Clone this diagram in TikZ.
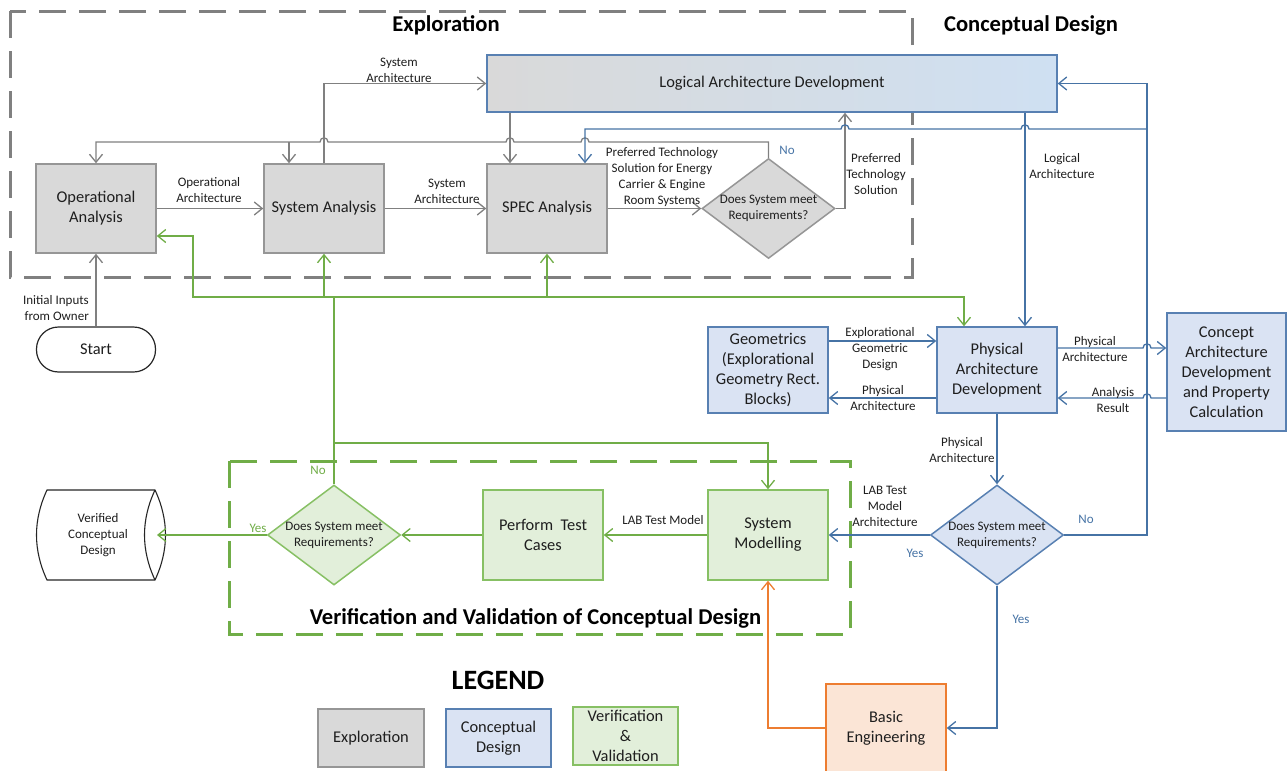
\documentclass[tikz,border=0pt]{standalone}
\usepackage{fontspec}
\setmainfont{Carlito}
\usetikzlibrary{arrows.meta,shapes.geometric}

\definecolor{exFill}{RGB}{217,217,217}
\definecolor{exLine}{RGB}{150,150,150}
\definecolor{exConn}{RGB}{128,128,128}
\definecolor{cdFill}{RGB}{218,227,243}
\definecolor{cdLine}{RGB}{88,128,178}
\definecolor{cdConn}{RGB}{70,115,165}
\definecolor{cdGrad}{RGB}{207,224,242}
\definecolor{vvFill}{RGB}{226,239,218}
\definecolor{vvLine}{RGB}{135,192,100}
\definecolor{vvConn}{RGB}{112,173,71}
\definecolor{beFill}{RGB}{251,229,214}
\definecolor{beLine}{RGB}{237,125,49}
\definecolor{txtDark}{RGB}{30,30,30}

\newcommand{\boxtxt}{\fontsize{16.4}{20}\selectfont}
\newcommand{\lbltxt}{\fontsize{13}{16}\selectfont}
\newcommand{\headtxt}{\fontsize{22.6}{27}\selectfont\bfseries}

\tikzset{
  blk/.style={draw, line width=1.5pt, minimum width=120pt, minimum height=89pt,
    inner sep=2pt, align=center, font=\boxtxt, text=txtDark},
  exblk/.style={blk, fill=exFill, draw=exLine},
  cdblk/.style={blk, fill=cdFill, draw=cdLine},
  vvblk/.style={blk, fill=vvFill, draw=vvLine},
  beblk/.style={blk, fill=beFill, draw=beLine},
  decision/.style={diamond, line width=1.5pt, minimum width=133pt,
    minimum height=100pt, inner sep=0pt},
  dtext/.style={font=\lbltxt, align=center, text=txtDark, inner sep=0pt},
  lbl/.style={font=\lbltxt, align=center, text=txtDark, inner sep=0pt},
  conn/.style={line width=1.3pt},
  exconn/.style={conn, draw=exConn},
  cdconn/.style={conn, draw=cdConn},
  vvconn/.style={conn, draw=vvConn},
  beconn/.style={conn, draw=beLine},
  arr/.style={-{Straight Barb[length=8pt,width=13pt]}},
  region/.style={line width=3pt, dash pattern=on 27pt off 13pt},
  heading/.style={font=\headtxt, text=black, inner sep=0pt},
}

\begin{document}
\begin{tikzpicture}[x=1pt,y=-1pt]
\useasboundingbox (0,0) rectangle (1288,771);

% ---------- phase regions ----------
\draw[region, draw=exConn] (10,11) rectangle (912,277);
\draw[region, draw=vvConn] (229,461) rectangle (850,634);

\node[heading] (hExp) at (446,25) {Exploration};
\node[heading] (hCon) at (1031,25) {Conceptual Design};
\node[heading] (hVV) at (535.5,618) {Verification and Validation of Conceptual Design};

% ---------- exploration blocks ----------
\node[exblk] (op) at (96,208.5) {Operational\\Analysis};
\node[exblk] (sys) at (324,208.5) {System Analysis};
\node[exblk] (spec) at (547,208.5) {SPEC Analysis};
\node[decision, draw=exLine, fill=exFill,
  label={[dtext]center:Does System meet\\Requirements?}] (gd) at (768.5,208.5) {};
\node[draw=black!85, line width=1.2pt, rounded corners=22pt, minimum width=119pt,
  minimum height=45pt, font=\boxtxt, text=txtDark] (start) at (96,349.5) {Start};

% ---------- conceptual design blocks ----------
\node[blk, draw=cdLine, left color=exFill, right color=cdGrad,
  minimum width=570pt, minimum height=57pt] (logical) at (772,83.5)
  {Logical Architecture Development};
\node[cdblk, minimum height=86pt] (geo) at (768,370)
  {Geometrics\\(Explorational\\Geometry Rect.\\Blocks)};
\node[cdblk, minimum height=86pt] (phys) at (997,370)
  {Physical\\Architecture\\Development};
\node[cdblk, minimum width=119pt, minimum height=118pt] (concept) at (1226.5,372)
  {Concept\\Architecture\\Development\\and Property\\Calculation};
\node[decision, draw=cdLine, fill=cdFill,
  label={[dtext]center:Does System meet\\Requirements?}] (bd) at (997,535) {};
\node[beblk, minimum height=88pt] (basic) at (886,728) {Basic\\Engineering};

% ---------- verification & validation blocks ----------
\node[vvblk, minimum height=90pt] (sysmod) at (768,535) {System\\Modelling};
\node[vvblk, minimum height=90pt] (perform) at (543,535) {Perform~ Test\\Cases};
\node[decision, draw=vvLine, fill=vvFill,
  label={[dtext]center:Does System meet\\Requirements?}] (vd) at (334,535) {};

% stored-data outline of the verified design
\draw[line width=1.1pt, draw=black!85, fill=white]
  (47,490) -- (155,490) .. controls (169,520) and (169,550) .. (155,580)
  -- (47,580) .. controls (33,550) and (33,520) .. (47,490) -- cycle;
\draw[line width=1.1pt, draw=black!85]
  (155,490) .. controls (141,520) and (141,550) .. (155,580);
\node[lbl] (vcd) at (98,535) {Verified\\Conceptual\\Design};
\coordinate (vcdin) at (157,535);

% ---------- legend ----------
\node[font=\fontsize{28}{32}\selectfont\bfseries, inner sep=0pt] (legend) at (498,680) {LEGEND};
\node[exblk, minimum width=106pt, minimum height=58pt] (lex) at (371,738) {Exploration};
\node[cdblk, minimum width=105pt, minimum height=58pt] (lcd) at (498.5,738) {Conceptual\\Design};
\node[vvblk, minimum width=105pt, minimum height=58pt] (lvv) at (625.5,736) {Verification\\\&\\Validation};

% ---------- exploration connectors ----------
\draw[exconn, arr] (start.north) -- (op.south);
\draw[exconn, arr] (op.east) -- (sys.west);
\draw[exconn, arr] (sys.east) -- (spec.west);
\draw[exconn, arr] (spec.east) -- (gd.west);
\draw[exconn, arr] (sys.north) -- (sys.north |- logical.west) -- (logical.west);
\draw[exconn, arr] (logical.south -| 510,0) -- (spec.north -| 510,0);
\draw[exconn, arr] (gd.east) -- (845,208.5) -- (logical.south -| 845,0);
\draw[exconn, arr] (gd.north) -- (gd.north |- 0,142) -- (589,142)
  .. controls (589,136.5) and (581,136.5) .. (581,142) -- (514,142)
  .. controls (514,136.5) and (506,136.5) .. (506,142) -- (328,142)
  .. controls (328,136.5) and (320,136.5) .. (320,142)
  -- (op.north |- 0,142) -- (op.north);
\coordinate (jgray) at (289,142);
\draw[exconn, arr] (jgray) -- (sys.north -| jgray);

\node[lbl] (lSA1) at (399,70) {System\\Architecture};
\node[lbl] (lOA) at (209,190) {Operational\\Architecture};
\node[lbl] (lSA2) at (447,191) {System\\Architecture};
\node[lbl] (lPT) at (662,177) {Preferred Technology\\Solution for Energy\\Carrier \& Engine\\Room Systems};
\node[lbl, text=cdConn] (lNo1) at (787,150) {No};
\node[lbl] (lPTS) at (876,174) {Preferred\\Technology\\Solution};
\node[lbl, align=right, anchor=east] (lInit) at (89,308) {Initial Inputs\\from Owner};

% ---------- conceptual design connectors ----------
\draw[cdconn, arr] (logical.south -| 1025,0) -- (phys.north -| 1025,0);
\draw[cdconn, arr] (phys.south) -- (bd.north);
\draw[cdconn, arr] (bd.west) -- (sysmod.east);
\draw[cdconn, arr] (bd.east) -| (logical.east -| 1147,0) -- (logical.east);
\coordinate (jblue) at (1147,129);
\draw[cdconn, arr] (jblue) -- (1029,129)
  .. controls (1029,123.5) and (1021,123.5) .. (1021,129) -- (849,129)
  .. controls (849,123.5) and (841,123.5) .. (841,129)
  -- (585,129) -- (spec.north -| 585,0);
\draw[cdconn, arr] (geo.east |- 0,341) -- (phys.west |- 0,341);
\draw[cdconn, arr] (phys.west |- 0,398) -- (geo.east |- 0,398);
\draw[cdconn, arr] (phys.east |- 0,348) -- (1143,348)
  .. controls (1143,342.5) and (1151,342.5) .. (1151,348) -- (concept.west |- 0,348);
\draw[cdconn, arr] (concept.west |- 0,398) -- (1151,398)
  .. controls (1151,392.5) and (1143,392.5) .. (1143,398) -- (phys.east |- 0,398);
\draw[cdconn, arr] (bd.south) |- (basic.east);

\node[lbl] (lLA) at (1062,166) {Logical\\Architecture};
\node[lbl] (lEGD) at (880,349) {Explorational\\Geometric\\Design};
\node[lbl] (lPA1) at (883,398) {Physical\\Architecture};
\node[lbl] (lPA2) at (1095,349) {Physical\\Architecture};
\node[lbl] (lAR) at (1113,400) {Analysis\\Result};
\node[lbl] (lPA3) at (962,450) {Physical\\Architecture};
\node[lbl] (lLTMA) at (885,506) {LAB Test\\Model\\Architecture};
\node[lbl, text=cdConn] (lYes1) at (915,553) {Yes};
\node[lbl, text=cdConn] (lNo2) at (1086,519) {No};
\node[lbl, text=cdConn] (lYes2) at (1021,619) {Yes};

% ---------- verification & validation connectors ----------
\draw[vvconn, arr] (sysmod.west) -- (perform.east);
\draw[vvconn, arr] (perform.west) -- (vd.east);
\draw[vvconn, arr] (vd.west) -- (vcdin);
\coordinate (jgreen) at (vd.north |- 0,297);
\draw[vvconn] (vd.north) -- (jgreen);
\draw[vvconn, arr] (jgreen) -- (193,297) -- (193,236) -- (op.east |- 0,236);
\draw[vvconn, arr] (324,297) -- (sys.south);
\draw[vvconn, arr] (547,297) -- (spec.south);
\draw[vvconn, arr] (jgreen) -- (964,297) -- (phys.north -| 964,0);
\draw[vvconn, arr] (vd.north |- 0,443) -- (sysmod.north |- 0,443) -- (sysmod.north);

\node[lbl] (lLTM) at (663,520) {LAB Test Model};
\node[lbl, text=vvConn] (lYes3) at (258,528) {Yes};
\node[lbl, text=vvConn] (lNo3) at (318,470) {No};

% ---------- basic engineering feedback ----------
\draw[beconn, arr] (basic.west) -| (sysmod.south);

\end{tikzpicture}
\end{document}
